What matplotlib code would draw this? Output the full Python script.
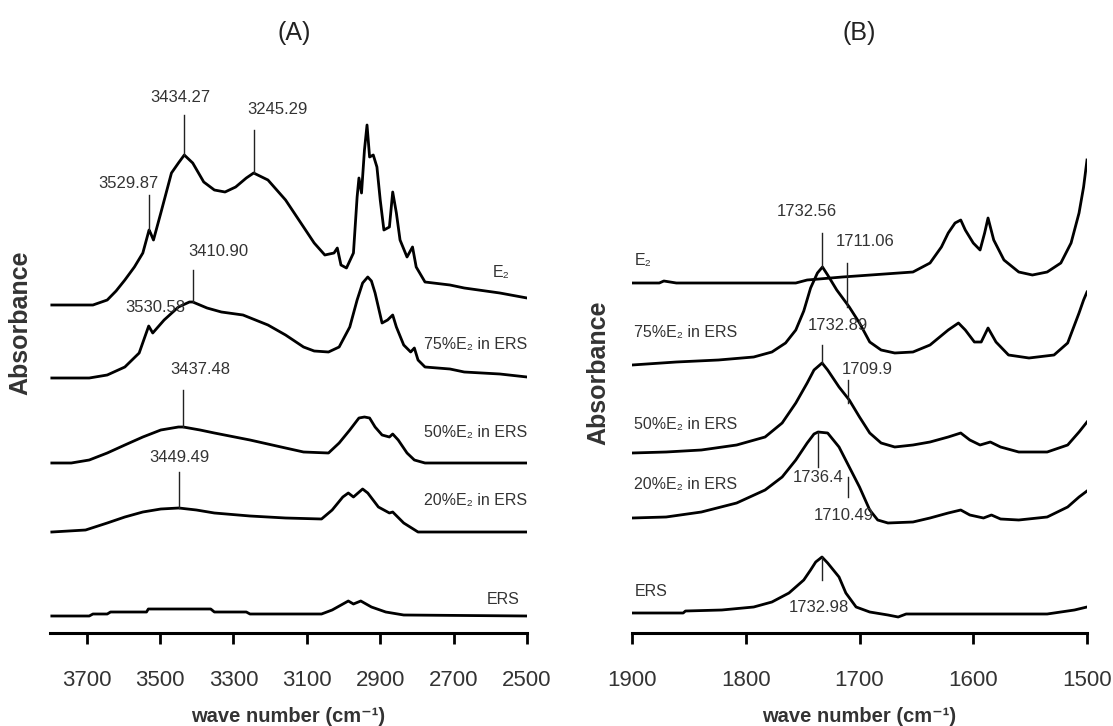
import numpy as np
import matplotlib
matplotlib.use("Agg")
import matplotlib.pyplot as plt

plt.rcParams['font.family'] = ['Liberation Sans', 'DejaVu Sans']

# ---- (A) 3800-2500 cm-1 region -------------------------------------------
a_e2_wn = [3795, 3683, 3644, 3620, 3596, 3570, 3547, 3530, 3526, 3518, 3498, 3469, 3450,
           3434, 3411, 3381, 3352, 3323, 3294, 3265, 3245, 3206, 3158, 3109, 3080, 3051,
           3026, 3017, 3007, 2992, 2973, 2963, 2958, 2951, 2943, 2936, 2929, 2919, 2909,
           2900, 2890, 2875, 2866, 2856, 2846, 2827, 2812, 2802, 2778, 2710, 2671, 2574, 2500]
a_e2_abs = [3.28, 3.28, 3.33, 3.42, 3.53, 3.66, 3.80, 4.03, 4.00, 3.93, 4.20, 4.60, 4.70,
            4.78, 4.70, 4.51, 4.43, 4.41, 4.46, 4.55, 4.60, 4.53, 4.33, 4.06, 3.90, 3.78,
            3.80, 3.85, 3.68, 3.65, 3.80, 4.36, 4.55, 4.40, 4.83, 5.08, 4.76, 4.78, 4.66,
            4.33, 4.03, 4.06, 4.41, 4.20, 3.93, 3.76, 3.86, 3.66, 3.51, 3.48, 3.45, 3.40, 3.35]

a_75_wn = [3795, 3693, 3644, 3596, 3557, 3531, 3520, 3489, 3450, 3420, 3411, 3372, 3333,
           3274, 3206, 3158, 3109, 3080, 3041, 3012, 2983, 2963, 2948, 2934, 2924, 2914,
           2895, 2880, 2866, 2856, 2836, 2817, 2807, 2797, 2778, 2710, 2671, 2574, 2500]
a_75_abs = [2.55, 2.55, 2.58, 2.66, 2.80, 3.07, 3.00, 3.13, 3.26, 3.31, 3.31, 3.25, 3.21,
            3.18, 3.08, 2.98, 2.86, 2.82, 2.81, 2.86, 3.06, 3.33, 3.50, 3.56, 3.52, 3.40,
            3.10, 3.13, 3.18, 3.06, 2.88, 2.81, 2.85, 2.73, 2.66, 2.64, 2.61, 2.59, 2.56]

a_50_wn = [3795, 3742, 3693, 3644, 3596, 3547, 3498, 3450, 3437, 3391, 3352, 3255, 3158,
           3109, 3041, 3012, 2983, 2958, 2943, 2929, 2914, 2895, 2875, 2866, 2851, 2827,
           2807, 2778, 2671, 2500]
a_50_abs = [1.70, 1.70, 1.73, 1.80, 1.88, 1.96, 2.03, 2.06, 2.06, 2.03, 2.00, 1.93, 1.85,
            1.81, 1.80, 1.90, 2.03, 2.15, 2.16, 2.15, 2.06, 1.98, 1.96, 1.99, 1.93, 1.80,
            1.73, 1.70, 1.70, 1.70]

a_20_wn = [3795, 3703, 3644, 3596, 3547, 3498, 3449, 3401, 3352, 3255, 3158, 3060, 3031,
           3002, 2987, 2973, 2948, 2934, 2905, 2875, 2866, 2836, 2797, 2671, 2500]
a_20_abs = [1.01, 1.03, 1.10, 1.16, 1.21, 1.24, 1.25, 1.23, 1.20, 1.17, 1.15, 1.14, 1.23,
            1.36, 1.40, 1.36, 1.44, 1.40, 1.26, 1.20, 1.21, 1.10, 1.01, 1.01, 1.01]

a_ers_wn = [3795, 3693, 3683, 3644, 3635, 3537, 3532, 3362, 3352, 3265, 3255, 3060, 3031,
            2987, 2973, 2953, 2924, 2885, 2836, 2500]
a_ers_abs = [0.17, 0.17, 0.19, 0.19, 0.21, 0.21, 0.24, 0.24, 0.21, 0.21, 0.19, 0.19, 0.23,
             0.32, 0.29, 0.32, 0.26, 0.21, 0.18, 0.17]

# ---- (B) 1900-1500 cm-1 region -------------------------------------------
b_e2_wn = [1900, 1876, 1872, 1861, 1756, 1746, 1715, 1653, 1638, 1628, 1622, 1616, 1611,
           1607, 1600, 1594, 1590, 1587, 1582, 1573, 1560, 1548, 1535, 1523, 1514, 1507,
           1503, 1500]
b_e2_abs = [3.50, 3.50, 3.52, 3.50, 3.50, 3.53, 3.56, 3.61, 3.70, 3.86, 4.00, 4.10, 4.13,
            4.03, 3.90, 3.83, 4.00, 4.15, 3.93, 3.73, 3.61, 3.58, 3.61, 3.70, 3.90, 4.20,
            4.46, 4.73]

b_75_wn = [1900, 1874, 1861, 1824, 1793, 1777, 1765, 1756, 1749, 1743, 1737, 1732.56,
           1728, 1720, 1709, 1700, 1691, 1681, 1669, 1653, 1638, 1622, 1613, 1607, 1599,
           1593, 1587, 1580, 1569, 1551, 1529, 1517, 1507, 1503, 1500]
b_75_abs = [2.68, 2.70, 2.71, 2.73, 2.76, 2.81, 2.90, 3.03, 3.22, 3.45, 3.60, 3.66,
            3.58, 3.43, 3.26, 3.10, 2.91, 2.83, 2.80, 2.81, 2.88, 3.03, 3.10, 3.03, 2.91,
            2.91, 3.05, 2.91, 2.78, 2.75, 2.78, 2.90, 3.20, 3.33, 3.41]

b_50_wn = [1900, 1870, 1839, 1808, 1783, 1768, 1756, 1746, 1740, 1732.89, 1728, 1718,
           1709, 1700, 1691, 1681, 1669, 1653, 1638, 1622, 1611, 1603, 1594, 1585, 1576,
           1560, 1535, 1517, 1507, 1500]
b_50_abs = [1.80, 1.81, 1.83, 1.88, 1.96, 2.10, 2.30, 2.50, 2.63, 2.70, 2.63, 2.46,
            2.33, 2.16, 2.00, 1.90, 1.86, 1.88, 1.91, 1.96, 2.00, 1.93, 1.88, 1.91, 1.86,
            1.81, 1.81, 1.88, 2.01, 2.11]

b_20_wn = [1900, 1870, 1839, 1808, 1783, 1768, 1756, 1746, 1740, 1736.4, 1728, 1718,
           1709, 1700, 1691, 1684, 1675, 1653, 1638, 1622, 1611, 1603, 1591, 1584, 1576,
           1560, 1535, 1517, 1507, 1500]
b_20_abs = [1.15, 1.16, 1.21, 1.30, 1.43, 1.56, 1.73, 1.90, 1.99, 2.01, 2.00, 1.86,
            1.66, 1.46, 1.23, 1.13, 1.10, 1.11, 1.15, 1.20, 1.23, 1.18, 1.15, 1.18, 1.14,
            1.13, 1.16, 1.26, 1.36, 1.42]

b_ers_wn = [1900, 1855, 1853, 1821, 1793, 1777, 1762, 1749, 1743, 1738.5, 1732.98, 1728,
            1718, 1712, 1703, 1691, 1675, 1666, 1659, 1622, 1535, 1529, 1511, 1500]
b_ers_abs = [0.20, 0.20, 0.22, 0.23, 0.26, 0.31, 0.40, 0.53, 0.63, 0.71, 0.76, 0.70,
             0.56, 0.40, 0.26, 0.21, 0.18, 0.16, 0.19, 0.19, 0.19, 0.20, 0.23, 0.26]

series_names = ['E\u2082', '75%E\u2082 in ERS', '50%E\u2082 in ERS', '20%E\u2082 in ERS', 'ERS']

# peak labels: wavenumber, text, leader line (low, high), text position (wn, y)
a_peak_wn = [3529.87, 3434.27, 3245.29, 3410.90, 3437.48, 3449.49]
a_peak_txt = ['3529.87', '3434.27', '3245.29', '3410.90', '3437.48', '3449.49']
a_line_y = [(4.03, 4.38), (4.78, 5.18), (4.60, 5.03), (3.31, 3.63), (2.06, 2.43), (1.25, 1.61)]
a_txt_pos = [(3587, 4.50), (3446, 5.36), (3181, 5.24), (3342, 3.81), (3391, 2.64), (3446, 1.76)]

b_peak_wn = [1732.56, 1711.06, 1732.89, 1709.9, 1736.4, 1710.49, 1732.98]
b_peak_txt = ['1732.56', '1711.06', '1732.89', '1709.9', '1736.4', '1710.49', '1732.98']
b_line_y = [(3.66, 4.00), (3.26, 3.70), (2.70, 2.88), (2.30, 2.53), (1.66, 2.01),
            (1.36, 1.56), (0.53, 0.76)]
b_txt_pos = [(1746, 4.21), (1695, 3.91), (1719, 3.08), (1693, 2.63), (1736, 1.56),
             (1714, 1.18), (1736, 0.26)]

fig = plt.figure(figsize=(11.13, 7.26), dpi=100)
axA = fig.add_axes([50 / 1113, 93 / 726, 477 / 1113, 550 / 726])
axB = fig.add_axes([632 / 1113, 93 / 726, 455 / 1113, 550 / 726])

txt_col = '#333333'


def style_axis(ax, xlim, ticks):
    ax.set_xlim(*xlim)
    ax.set_ylim(0, 5.5)
    for s in ['top', 'left', 'right']:
        ax.spines[s].set_visible(False)
    ax.spines['bottom'].set_linewidth(2.2)
    ax.set_yticks([])
    ax.set_xticks(ticks)
    ax.tick_params(axis='x', direction='out', length=8, width=2.0, pad=19,
                   labelsize=16, labelcolor=txt_col)
    ax.set_xlabel('wave number (cm\u207b\u00b9)', family=['Liberation Sans', 'DejaVu Sans'],
                  weight='bold', fontsize=14.5, color=txt_col, labelpad=11)
    ax.set_ylabel('Absorbance', family='Liberation Sans', weight='bold', fontsize=18,
                  color=txt_col)
    ax.patch.set_visible(False)


style_axis(axA, (3800, 2500), [3700, 3500, 3300, 3100, 2900, 2700, 2500])
style_axis(axB, (1900, 1500), [1900, 1800, 1700, 1600, 1500])
axA.yaxis.set_label_coords(-0.036, 0.565)
axB.yaxis.set_label_coords(-0.048, 0.473)

a_traces = [(a_e2_wn, a_e2_abs), (a_75_wn, a_75_abs), (a_50_wn, a_50_abs),
            (a_20_wn, a_20_abs), (a_ers_wn, a_ers_abs)]
b_traces = [(b_e2_wn, b_e2_abs), (b_75_wn, b_75_abs), (b_50_wn, b_50_abs),
            (b_20_wn, b_20_abs), (b_ers_wn, b_ers_abs)]

for wn, ab in a_traces:
    axA.plot(wn, ab, color='black', lw=2.0, solid_joinstyle='round')
for wn, ab in b_traces:
    axB.plot(wn, ab, color='black', lw=2.0, solid_joinstyle='round')

# series names: right side in (A), left side in (B)
a_name_pos = [(2548, 3.60), (2500, 2.88), (2500, 2.00), (2500, 1.33), (2519, 0.33)]
b_name_pos = [(1898, 3.73), (1898, 3.01), (1898, 2.08), (1898, 1.48), (1898, 0.42)]
for name, (x, y) in zip(series_names, a_name_pos):
    axA.text(x, y, name, ha='right', va='center', fontsize=11.5, color=txt_col)
for name, (x, y) in zip(series_names, b_name_pos):
    axB.text(x, y, name, ha='left', va='center', fontsize=11.5, color=txt_col)

# peak markers
for ax, pk, tx, ly, tp in [(axA, a_peak_wn, a_peak_txt, a_line_y, a_txt_pos),
                           (axB, b_peak_wn, b_peak_txt, b_line_y, b_txt_pos)]:
    for w, t, (y0, y1), (x, y) in zip(pk, tx, ly, tp):
        ax.plot([w, w], [y0, y1], color='#222222', lw=1.0)
        ax.text(x, y, t, ha='center', va='center', fontsize=12, color=txt_col)

axA.text(3530.58 - 17, 3.25, '3530.58', ha='center', va='center', fontsize=12, color=txt_col)

axA.text(0.5115, 1.091, '(A)', transform=axA.transAxes, ha='center', va='center',
         fontsize=18, color='#222222')
axB.text(0.5, 1.091, '(B)', transform=axB.transAxes, ha='center', va='center',
         fontsize=18, color='#222222')

fig.savefig('out.png', dpi=100, facecolor='white')
